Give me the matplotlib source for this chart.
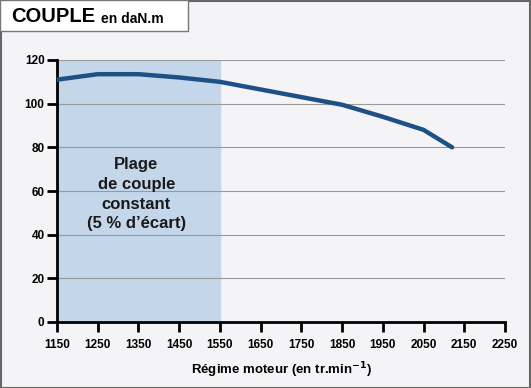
import matplotlib
matplotlib.use('Agg')
import matplotlib.pyplot as plt
from matplotlib.patches import Rectangle

# courbe de couple
regime = [1150, 1250, 1350, 1450, 1550, 1650, 1750, 1850, 1950, 2050, 2120]
couple = [111, 113.5, 113.5, 112, 110, 106.5, 103, 99.5, 94, 88, 80]
x_ticks = [1150, 1250, 1350, 1450, 1550, 1650, 1750, 1850, 1950, 2050, 2150, 2250]
y_ticks = [0, 20, 40, 60, 80, 100, 120]
plage = (1150, 1550)

plt.rcParams['font.family'] = ['Liberation Sans Narrow', 'Liberation Sans', 'DejaVu Sans']

bg = '#f4f3f6'
fig = plt.figure(figsize=(5.31, 3.88), dpi=100, facecolor=bg)

# cadre + cartouche du titre
fig.patches.append(Rectangle((0.001, 0.001), 0.997, 0.997, transform=fig.transFigure,
                             fill=False, edgecolor='#666666', lw=1.5))
fig.patches.append(Rectangle((0.0, 1 - 31 / 388), 188 / 531, 31 / 388, transform=fig.transFigure,
                             facecolor='white', edgecolor='#777777', lw=1))
fig.text(11 / 531, 1 - 17 / 388, 'COUPLE', fontsize=14.5, fontweight='bold',
         family=['Liberation Sans', 'DejaVu Sans'], va='center')
fig.text(101 / 531, 1 - 19 / 388, 'en daN.m', fontsize=10, fontweight='bold',
         family=['Liberation Sans', 'DejaVu Sans'], va='center')

ax = fig.add_axes([57 / 531, 1 - 322 / 388, 448 / 531, 262 / 388])
ax.set_facecolor(bg)
ax.set_xlim(1150, 2250)
ax.set_ylim(0, 120)

ax.axvspan(plage[0], plage[1], color='#c3d6ea', zorder=0)
for y in y_ticks[1:]:
    ax.axhline(y, color='#999999', lw=0.8, zorder=1)

ax.plot(regime, couple, color='#1d5186', lw=3.2, solid_capstyle='round', zorder=3)

ax.text(1345, 58.5, 'Plage\nde couple\nconstant\n(5 % d\u2019écart)', ha='center', va='center',
        fontsize=12, fontweight='bold', color='#1a1a1a', linespacing=1.38,
        family=['Liberation Sans', 'DejaVu Sans'])

ax.set_xticks(x_ticks)
ax.set_yticks(y_ticks)
ax.tick_params(axis='both', direction='out', length=7, width=2, color='black',
               labelsize=8.5)
ax.tick_params(axis='x', pad=5)
ax.tick_params(axis='y', pad=2)
for lab in ax.get_xticklabels() + ax.get_yticklabels():
    lab.set_fontweight('bold')
for s in ['top', 'right']:
    ax.spines[s].set_visible(False)
for s in ['left', 'bottom']:
    ax.spines[s].set_linewidth(2)
ax.set_xlabel('Régime moteur (en tr.min$^{\\mathbf{-1}}$)', fontsize=9.5, fontweight='bold',
              labelpad=7, family=['Liberation Sans', 'DejaVu Sans'])

fig.savefig('out.png', dpi=100, facecolor=bg)
